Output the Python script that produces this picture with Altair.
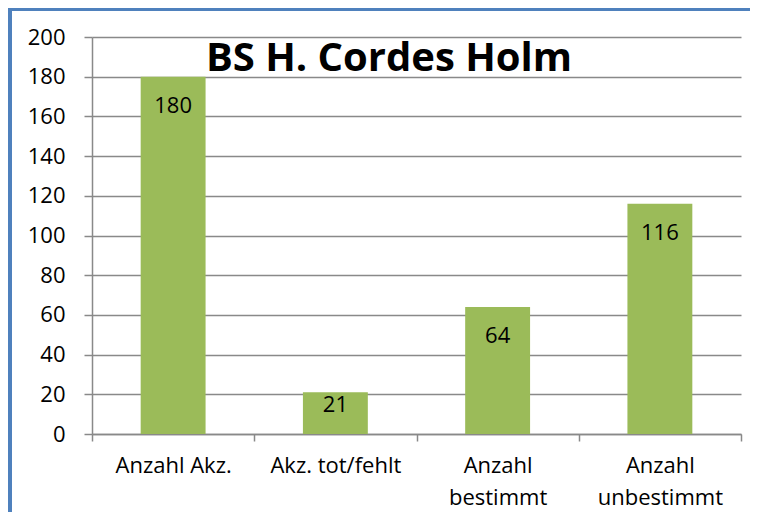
import altair as alt
import pandas as pd

categories = ["Anzahl Akz.", "Akz. tot/fehlt", "Anzahl\nbestimmt", "Anzahl\nunbestimmt"]
values = [180, 21, 64, 116]
y_ticks = [0, 20, 40, 60, 80, 100, 120, 140, 160, 180, 200]
title_text = "BS H. Cordes Holm"

df = pd.DataFrame({"category": categories, "value": values})

FONT = "Open Sans"
W, H = 649, 397
GRAY = "#898989"
BLUE = "#4F81BD"
GREEN = "#9BBB59"
FS = 22

x = alt.X(
    "category:N", sort=categories, title=None,
    scale=alt.Scale(paddingInner=0, paddingOuter=0),
    axis=alt.Axis(labelAngle=0, labelExpr="split(datum.label, '\\n')",
                  tickBand="extent", ticks=True, tickSize=7, tickColor=GRAY,
                  tickWidth=1.5, domainColor=GRAY, domainWidth=1.5,
                  labelFontSize=FS, labelFont=FONT, labelColor="black",
                  labelPadding=14, labelLineHeight=32, grid=False),
)
y = alt.Y(
    "value:Q", title=None, scale=alt.Scale(domain=[0, 200], nice=False),
    axis=alt.Axis(values=y_ticks, tickSize=8, tickColor=GRAY, tickWidth=1.5,
                  domainColor=GRAY, domainWidth=1.5, labelPadding=19,
                  labelFontSize=FS, labelFont=FONT, labelColor="black",
                  grid=True, gridColor=GRAY, gridWidth=1.5),
)

bars = alt.Chart(df).mark_bar(color=GREEN, width=alt.RelativeBandSize(0.4)).encode(x=x, y=y)

labels_tall = alt.Chart(df).transform_filter("datum.value >= 30").mark_text(
    font=FONT, fontSize=FS, color="black", baseline="middle", dy=29
).encode(x=x, y=y, text="value:Q")

labels_short = alt.Chart(df).transform_filter("datum.value < 30").mark_text(
    font=FONT, fontSize=FS, color="black", baseline="middle", dy=13
).encode(x=x, y=y, text="value:Q")

one = alt.Data(values=[{"a": 1}])
title_mark = alt.Chart(one).mark_text(
    text=title_text, font=FONT, fontSize=40, fontWeight="bold", color="black",
    align="center", baseline="middle"
).encode(x=alt.value(297), y=alt.value(21.5))

border_left = alt.Chart(one).mark_rule(color=BLUE, strokeWidth=4).encode(
    x=alt.value(-82), y=alt.value(-29), y2=alt.value(H + 90)
)
border_top = alt.Chart(one).mark_rule(color=BLUE, strokeWidth=3).encode(
    y=alt.value(-27.5), x=alt.value(-84), x2=alt.value(W + 30)
)

chart = alt.layer(bars, labels_tall, labels_short, title_mark, border_left, border_top).properties(
    width=W, height=H,
    autosize=alt.AutoSizeParams(type="none"),
    padding={"left": 84, "top": 29, "right": 9, "bottom": 78},
).configure_view(stroke=None)

chart.save("out.html", embed_options={"renderer": "svg", "actions": False})
